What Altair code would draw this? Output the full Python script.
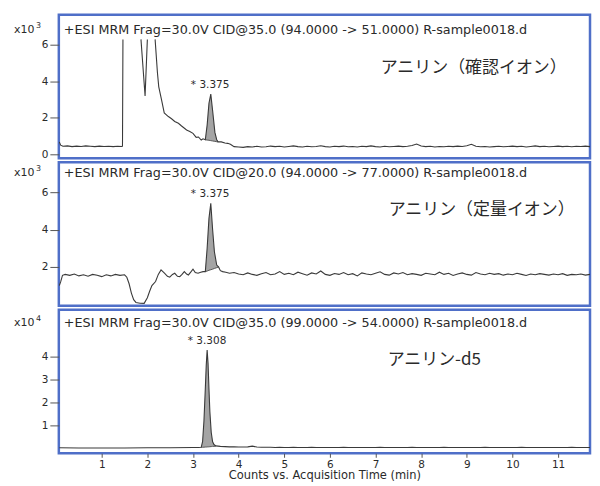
import altair as alt
import pandas as pd

# ---------------- data ----------------
X_DOMAIN = [0.06, 11.70]
X_TICKS = [1, 2, 3, 4, 5, 6, 7, 8, 9, 10, 11]

# shared time grid for the flat tails (min)
tail_t = [4.0, 4.1, 4.2, 4.3, 4.4, 4.5, 4.6, 4.7, 4.8, 4.9,
          5.0, 5.1, 5.2, 5.3, 5.4, 5.5, 5.6, 5.7, 5.8, 5.9,
          6.0, 6.1, 6.2, 6.3, 6.4, 6.5, 6.6, 6.7, 6.8, 6.9,
          7.0, 7.1, 7.2, 7.3, 7.4, 7.5, 7.6, 7.7, 7.8, 7.9,
          8.0, 8.1, 8.2, 8.3, 8.4, 8.5, 8.6, 8.7, 8.8, 8.9,
          9.0, 9.1, 9.2, 9.3, 9.4, 9.5, 9.6, 9.7, 9.8, 9.9,
          10.0, 10.1, 10.2, 10.3, 10.4, 10.5, 10.6, 10.7, 10.8, 10.9,
          11.0, 11.1, 11.2, 11.3, 11.4, 11.5, 11.6, 11.7, 11.8]

# ---- panel 1 : 94 -> 51 (x10^3) ----
p1a_t = [0.07, 0.10, 0.15, 0.25, 0.35, 0.45, 0.55, 0.65, 0.75, 0.85, 0.95,
         1.05, 1.15, 1.25, 1.35, 1.44, 1.455, 1.465]
p1a_y = [0.68, 0.50, 0.44, 0.46, 0.42, 0.45, 0.43, 0.46, 0.44, 0.42, 0.45,
         0.43, 0.44, 0.42, 0.44, 0.43, 0.45, 6.30]
p1b_t = [1.86, 1.95, 2.00]
p1b_y = [6.30, 3.20, 6.30]
p1c_t = [2.17, 2.22, 2.25, 2.31, 2.37, 2.46, 2.53, 2.60, 2.68, 2.75, 2.86,
         2.93, 3.00, 3.07, 3.12, 3.18, 3.22]
p1c_y = [6.30, 4.50, 3.70, 3.00, 2.27, 2.07, 1.95, 1.80, 1.70, 1.55, 1.33,
         1.25, 1.15, 0.93, 0.95, 0.78, 0.85]
p1_peak_t = [3.27, 3.31, 3.35, 3.39, 3.43, 3.48, 3.52, 3.55]
p1_peak_y = [0.80, 1.60, 2.80, 3.30, 2.40, 1.20, 0.80, 0.68]
p1_peak_b = [0.80, 0.78, 0.77, 0.75, 0.73, 0.71, 0.69, 0.68]
p1d_t = [3.62, 3.70, 3.76, 3.82, 3.90]
p1d_y = [0.68, 0.62, 0.60, 0.55, 0.42]
p1_tail_y = [0.40, 0.38, 0.42, 0.40, 0.44, 0.40, 0.41, 0.45, 0.42, 0.44,
             0.40, 0.43, 0.46, 0.42, 0.40, 0.44, 0.41, 0.43, 0.47, 0.42,
             0.40, 0.44, 0.42, 0.45, 0.41, 0.43, 0.40, 0.44, 0.42, 0.46,
             0.42, 0.40, 0.44, 0.41, 0.43, 0.45, 0.42, 0.44, 0.48, 0.56,
             0.45, 0.42, 0.44, 0.40, 0.43, 0.41, 0.44, 0.42, 0.45, 0.43,
             0.47, 0.55, 0.44, 0.41, 0.43, 0.40, 0.42, 0.44, 0.41, 0.43,
             0.45, 0.42, 0.44, 0.40, 0.43, 0.46, 0.42, 0.44, 0.41, 0.43,
             0.45, 0.42, 0.44, 0.41, 0.44, 0.43, 0.45, 0.42, 0.44]

# ---- panel 2 : 94 -> 77 (x10^3) ----
p2a_t = [0.07, 0.10, 0.14, 0.20, 0.30, 0.40, 0.50, 0.60, 0.70, 0.80, 0.90,
         1.00, 1.10, 1.20, 1.30, 1.40, 1.50, 1.55, 1.60, 1.65, 1.70, 1.75,
         1.84, 1.93, 2.00, 2.05, 2.10, 2.18, 2.24, 2.30, 2.38, 2.44, 2.49,
         2.55, 2.60, 2.66, 2.71, 2.76, 2.81, 2.86, 2.90, 2.95, 3.00, 3.05,
         3.11, 3.17, 3.22]
p2a_y = [1.00, 1.20, 1.55, 1.60, 1.55, 1.62, 1.52, 1.58, 1.50, 1.60, 1.55,
         1.48, 1.58, 1.52, 1.60, 1.55, 1.58, 1.45, 1.10, 0.60, 0.25, 0.10,
         0.06, 0.05, 0.35, 0.70, 1.00, 1.22, 1.60, 1.84, 1.66, 1.50, 1.45,
         1.60, 1.66, 1.50, 1.48, 1.60, 1.75, 1.62, 1.57, 1.72, 1.88, 1.70,
         1.66, 1.72, 1.75]
p2_peak_t = [3.27, 3.31, 3.35, 3.39, 3.43, 3.47, 3.52, 3.56]
p2_peak_y = [1.75, 3.00, 4.60, 5.40, 4.00, 2.80, 2.10, 2.00]
p2_peak_b = [1.75, 1.78, 1.82, 1.85, 1.88, 1.92, 1.96, 2.00]
p2d_t = [3.60, 3.65, 3.72, 3.80, 3.90]
p2d_y = [1.80, 1.75, 1.72, 1.66, 1.70]
p2_tail_y = [1.62, 1.58, 1.68, 1.60, 1.55, 1.63, 1.70, 1.58, 1.62, 1.75,
             1.60, 1.66, 1.58, 1.72, 1.64, 1.56, 1.68, 1.62, 1.78, 1.60,
             1.55, 1.65, 1.60, 1.70, 1.58, 1.64, 1.52, 1.68, 1.62, 1.58,
             1.66, 1.74, 1.60, 1.56, 1.68, 1.62, 1.70, 1.58, 1.64, 1.60,
             1.55, 1.66, 1.62, 1.58, 1.72, 1.60, 1.66, 1.54, 1.62, 1.68,
             1.60, 1.56, 1.70, 1.62, 1.58, 1.66, 1.60, 1.64, 1.56, 1.62,
             1.58, 1.66, 1.60, 1.54, 1.62, 1.58, 1.64, 1.60, 1.56, 1.62,
             1.58, 1.64, 1.55, 1.60, 1.58, 1.62, 1.56, 1.60, 1.58]

# ---- panel 3 : 99 -> 54 (x10^4) ----
p3a_t = [0.07, 0.50, 1.00, 1.50, 2.00, 2.50, 3.00, 3.12]
p3a_y = [0.04, 0.03, 0.03, 0.03, 0.04, 0.04, 0.05, 0.05]
p3_peak_t = [3.18, 3.21, 3.24, 3.27, 3.29, 3.31, 3.33, 3.35, 3.37, 3.40,
             3.43, 3.46, 3.50]
p3_peak_y = [0.06, 0.30, 1.20, 2.60, 3.60, 4.27, 3.70, 2.60, 1.60, 0.70,
             0.30, 0.18, 0.12]
p3_peak_b = [0.06, 0.06, 0.065, 0.07, 0.07, 0.075, 0.08, 0.08, 0.085, 0.09,
             0.10, 0.10, 0.11]
p3d_t = [3.60, 3.70, 3.80, 3.90]
p3d_y = [0.10, 0.09, 0.08, 0.08]
p3_tail_y = [0.07, 0.07, 0.08, 0.11, 0.07, 0.06, 0.06, 0.06, 0.05, 0.06,
             0.05, 0.05, 0.06, 0.05, 0.05, 0.05, 0.06, 0.05, 0.05, 0.05,
             0.05, 0.05, 0.05, 0.06, 0.05, 0.05, 0.05, 0.05, 0.05, 0.05,
             0.05, 0.06, 0.05, 0.05, 0.05, 0.05, 0.05, 0.05, 0.06, 0.05,
             0.05, 0.05, 0.05, 0.05, 0.05, 0.06, 0.05, 0.05, 0.05, 0.05,
             0.05, 0.05, 0.05, 0.05, 0.06, 0.05, 0.05, 0.05, 0.05, 0.05,
             0.05, 0.05, 0.06, 0.05, 0.05, 0.05, 0.05, 0.05, 0.05, 0.05,
             0.05, 0.05, 0.05, 0.06, 0.05, 0.05, 0.05, 0.05, 0.05]

headers = [
    "+ESI MRM Frag=30.0V CID@35.0 (94.0000 -> 51.0000) R-sample0018.d",
    "+ESI MRM Frag=30.0V CID@20.0 (94.0000 -> 77.0000) R-sample0018.d",
    "+ESI MRM Frag=30.0V CID@35.0 (99.0000 -> 54.0000) R-sample0018.d",
]
names_jp = ["アニリン（確認イオン）", "アニリン（定量イオン）", "アニリン-d5"]
exponents = ["3", "3", "4"]
peak_labels = ["* 3.375", "* 3.375", "* 3.308"]
peak_label_t = [3.375, 3.375, 3.308]
peak_apex = [3.30, 5.40, 4.27]

# ---------------- build tables ----------------
def seg_df(parts):
    rows = []
    for i, (ts, ys) in enumerate(parts):
        for t, v in zip(ts, ys):
            rows.append({"t": t, "y": v, "seg": i})
    return pd.DataFrame(rows)

line1 = seg_df([(p1a_t, p1a_y), (p1b_t, p1b_y),
                (p1c_t + p1_peak_t + p1d_t + tail_t,
                 p1c_y + p1_peak_y + p1d_y + p1_tail_y)])
line2 = seg_df([(p2a_t + p2_peak_t + p2d_t + tail_t,
                 p2a_y + p2_peak_y + p2d_y + p2_tail_y)])
line3 = seg_df([(p3a_t + p3_peak_t + p3d_t + tail_t,
                 p3a_y + p3_peak_y + p3d_y + p3_tail_y)])
peak1 = pd.DataFrame({"t": p1_peak_t, "y": p1_peak_y, "b": p1_peak_b})
peak2 = pd.DataFrame({"t": p2_peak_t, "y": p2_peak_y, "b": p2_peak_b})
peak3 = pd.DataFrame({"t": p3_peak_t, "y": p3_peak_y, "b": p3_peak_b})

FONT = "DejaVu Sans"
LINE = "#3a3a3a"
TEXT = "#2a2a2a"
W = 533


def panel(i, line_df, peak_df, ydom, yticks, height, hdr_y, jp_x, jp_y,
          show_x):
    if show_x:
        xaxis = alt.Axis(values=X_TICKS, title="Counts vs. Acquisition Time (min)",
                         grid=False, domain=False, tickSize=4, labelPadding=2,
                         labelFontSize=10.5, titleFontSize=11.5,
                         titleFontWeight="normal", titlePadding=0,
                         tickColor="#555", labelColor=TEXT, titleColor=TEXT,
                         labelFont=FONT, titleFont=FONT)
    else:
        xaxis = None
    yaxis = alt.Axis(values=yticks, title=None, grid=False, domain=False,
                     tickSize=9, labelPadding=2, labelFontSize=10.5,
                     tickColor="#555", labelColor=TEXT, labelFont=FONT)
    xs = alt.Scale(domain=X_DOMAIN, nice=False, zero=False)
    ys = alt.Scale(domain=ydom, nice=False, zero=False)

    def X():
        return alt.X("t:Q", scale=xs, axis=xaxis)

    def Y(f="y"):
        return alt.Y(f + ":Q", scale=ys, axis=yaxis)

    area = alt.Chart(peak_df).mark_area(color="#a4a4a4", opacity=1).encode(
        x=X(), y=Y(), y2="b:Q")
    base = alt.Chart(peak_df).mark_line(color="#555", strokeWidth=1).encode(
        x=X(), y=Y("b"))
    line = alt.Chart(line_df).mark_line(color=LINE, strokeWidth=1.1,
                                        clip=True).encode(
        x=X(), y=Y(), detail="seg:N")
    lab = alt.Chart(pd.DataFrame({"t": [peak_label_t[i]], "y": [peak_apex[i]],
                                  "s": [peak_labels[i]]})).mark_text(
        fontSize=10.5, font=FONT, color=TEXT, dy=-9, baseline="middle").encode(
        x=X(), y=Y(), text="s:N")
    txt = pd.DataFrame({"s": [headers[i]], "j": [names_jp[i]],
                        "x10": ["x10"], "e": [exponents[i]]})
    hdr = alt.Chart(txt).mark_text(align="left", baseline="middle",
                                   fontSize=12.8, font=FONT, color=TEXT).encode(
        x=alt.value(5), y=alt.value(hdr_y), text="s:N")
    jp = alt.Chart(txt).mark_text(align="left", baseline="middle",
                                  fontSize=17, font="Noto Sans CJK JP",
                                  color=TEXT).encode(
        x=alt.value(jp_x), y=alt.value(jp_y), text="j:N")
    x10 = alt.Chart(txt).mark_text(align="left", baseline="middle",
                                   fontSize=11, font=FONT, color=TEXT).encode(
        x=alt.value(-45), y=alt.value(hdr_y), text="x10:N")
    sup = alt.Chart(txt).mark_text(align="left", baseline="middle",
                                   fontSize=8, font=FONT, color=TEXT).encode(
        x=alt.value(-23), y=alt.value(hdr_y - 4), text="e:N")
    return alt.layer(area, base, line, lab, hdr, jp, x10, sup).properties(
        width=W, height=height)


c1 = panel(0, line1, peak1, [-0.22, 7.65], [0, 2, 4, 6], 144, 15, 323, 53, False)
c2 = panel(1, line2, peak2, [-0.08, 7.6], [2, 4, 6], 144, 11, 331, 48, False)
c3 = panel(2, line3, peak3, [-0.2, 6.02], [1, 2, 3, 4], 144, 13.5, 330, 50, True)

chart = alt.vconcat(c1, c2, c3, spacing=4, bounds="flush").properties(
    padding={"left": 4, "top": 4, "right": 0, "bottom": 0}
).configure_view(stroke="#4f6fc8", strokeWidth=2.5)

chart.save("out.html", embed_options={"renderer": "svg", "actions": False})
